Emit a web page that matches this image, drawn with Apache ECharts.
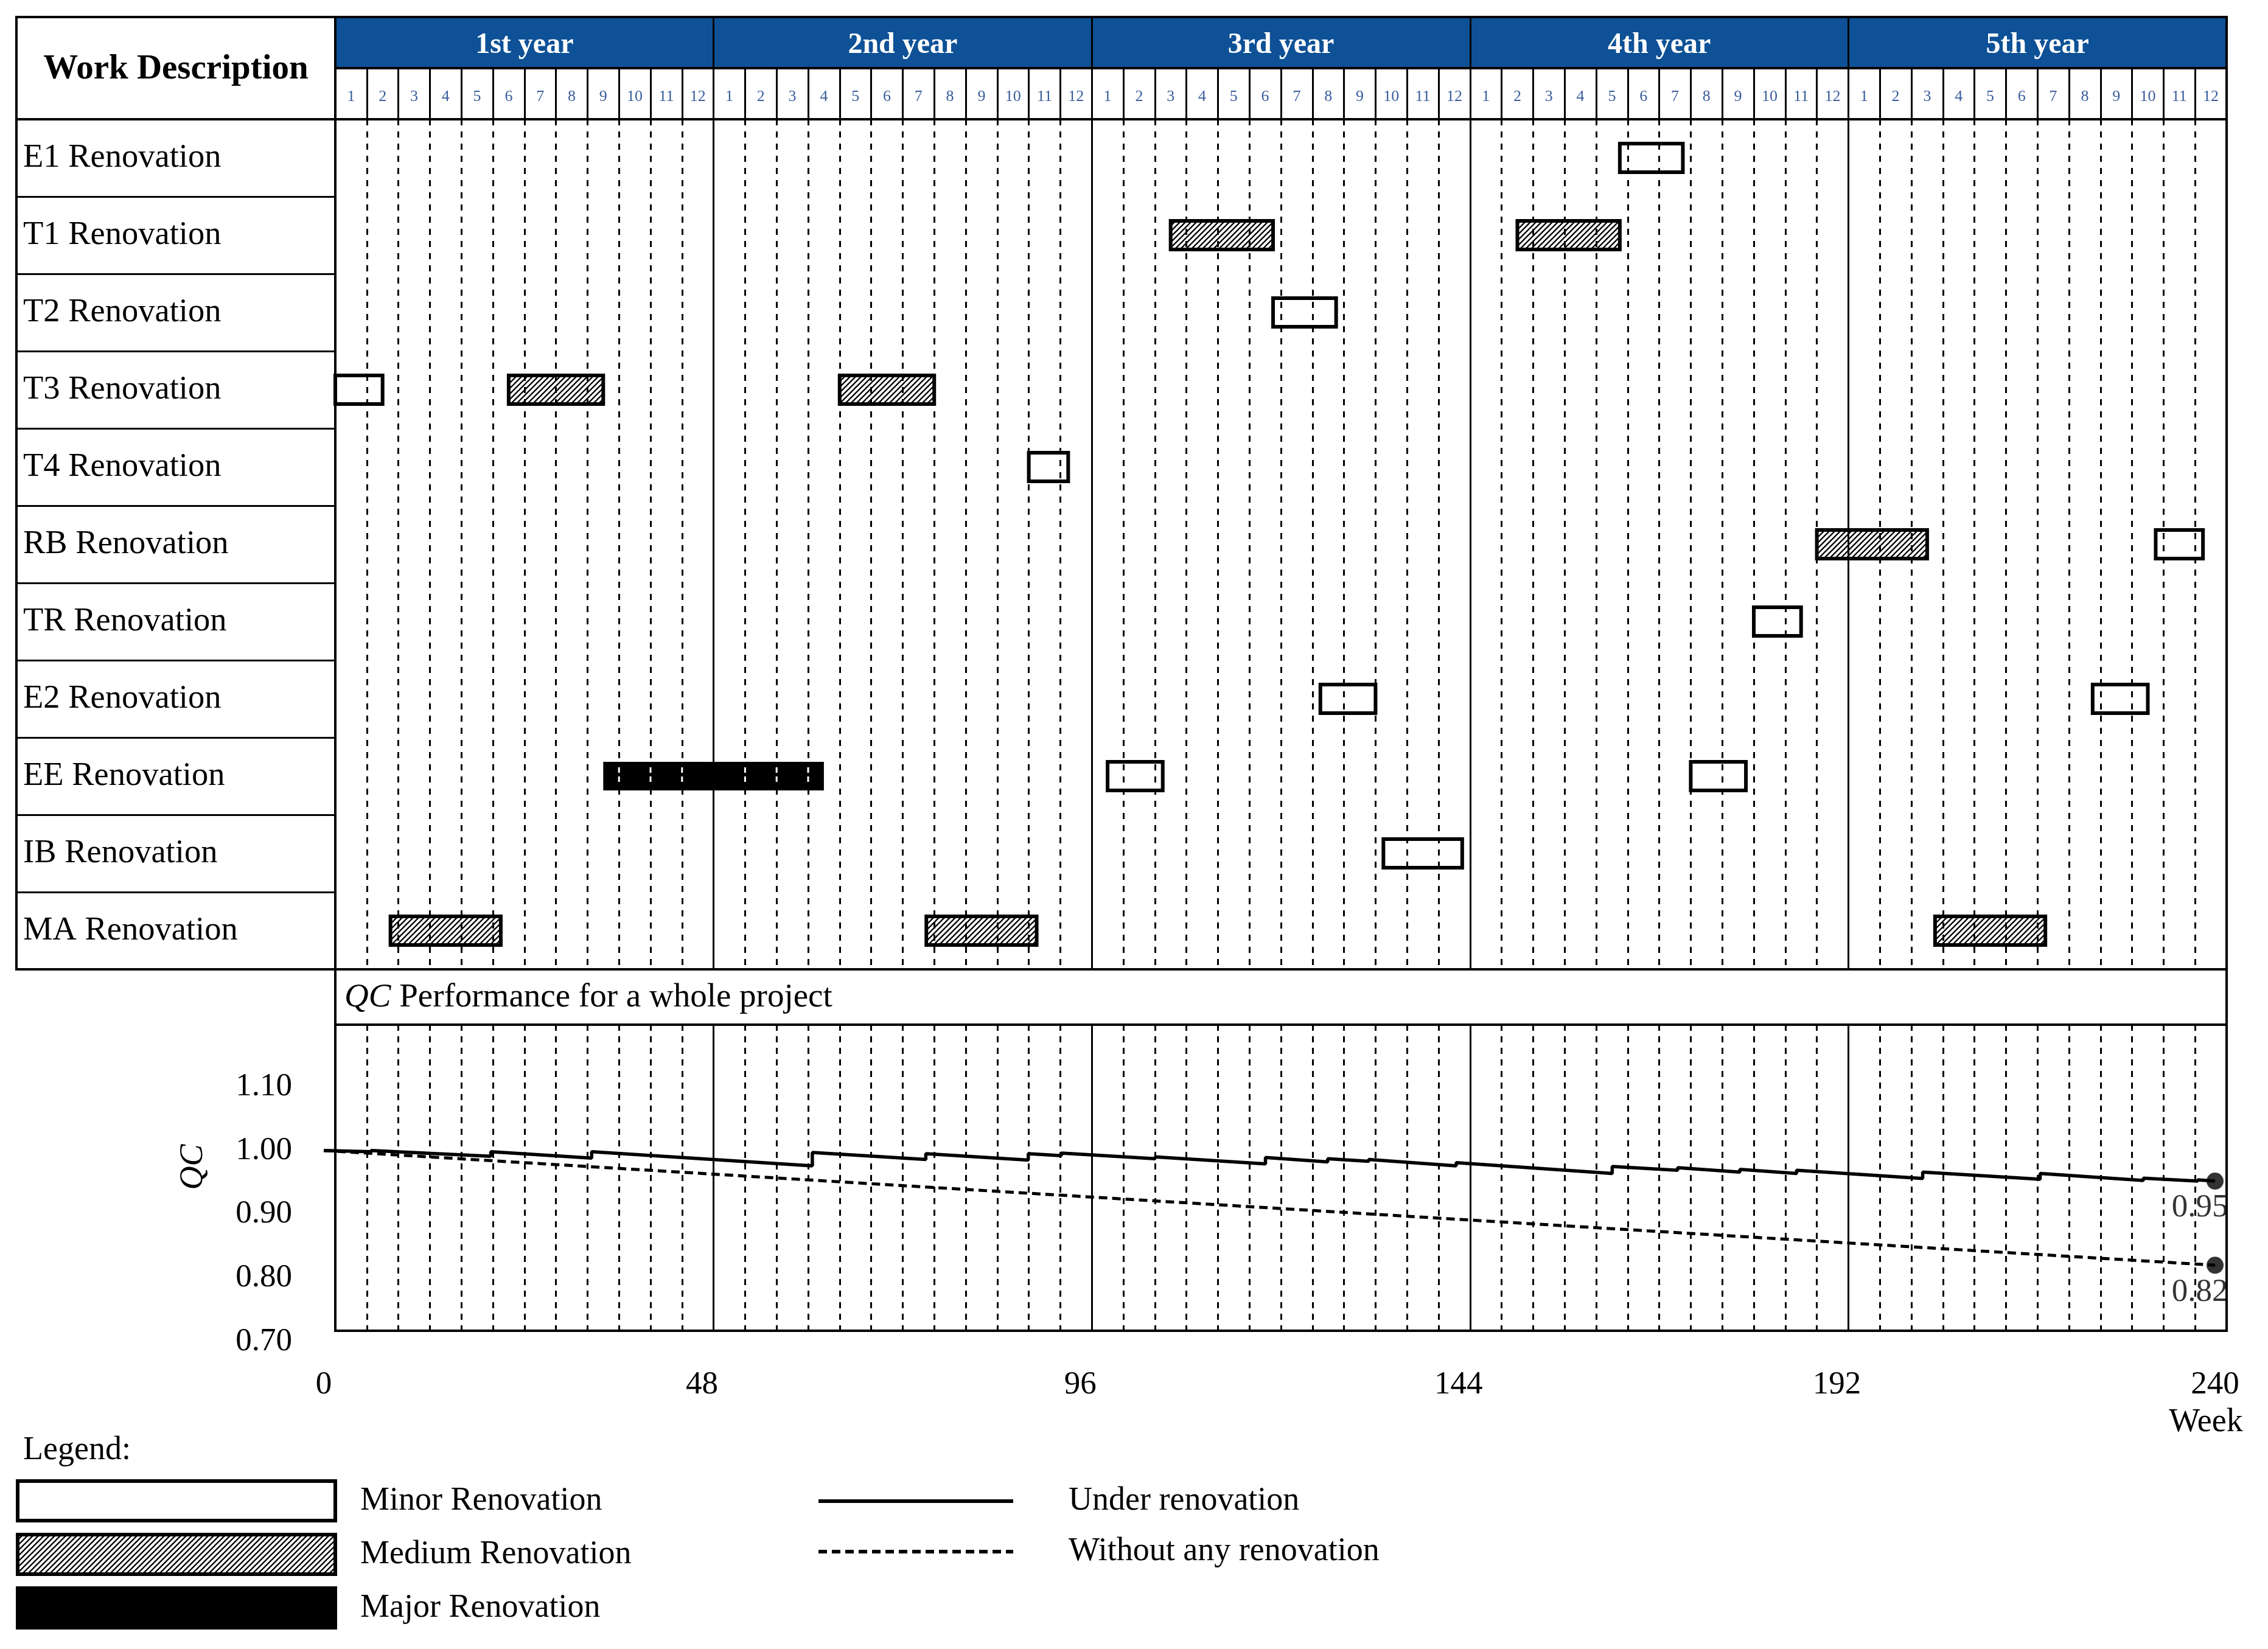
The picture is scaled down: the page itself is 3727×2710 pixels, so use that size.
<!DOCTYPE html>
<html><head><meta charset="utf-8">
<script src="https://cdn.jsdelivr.net/npm/echarts@6/dist/echarts.min.js"></script>
<style>html,body{margin:0;padding:0;background:#fff}#c{width:3727px;height:2710px}</style>
</head><body><div id="c"></div><script>
// ---------- data ----------
const taskNames = ['E1 Renovation','T1 Renovation','T2 Renovation','T3 Renovation','T4 Renovation','RB Renovation','TR Renovation','E2 Renovation','EE Renovation','IB Renovation','MA Renovation'];
const yearLabels = ['1st year','2nd year','3rd year','4th year','5th year'];
const monthLabels = ['1','2','3','4','5','6','7','8','9','10','11','12'];
// [task index, start week, end week]
const minorWorks = [[0,163,171],[2,119,127],[3,0,6],[4,88,93],[5,231,237],[6,180,186],[7,125,132],[7,223,230],[8,98,105],[8,172,179],[9,133,143]];
const mediumWorks = [[1,106,119],[1,150,163],[3,22,34],[3,64,76],[5,188,202],[10,7,21],[10,75,89],[10,203,217]];
const majorWorks = [[8,34,62]];
// QC performance [week, QC]
const qcUnder = [[0,1.000],[6,0.998],[6,1.000],[21.2,0.991],[21.2,0.998],[34,0.988],[34,0.998],[62,0.976],[62,0.997],
  [76.4,0.986],[76.4,0.995],[89.4,0.985],[89.4,0.995],[93.6,0.992],[93.6,0.996],[105.5,0.987],[105.5,0.990],
  [119.5,0.979],[119.5,0.989],[127.4,0.982],[127.4,0.987],[132.6,0.983],[132.6,0.986],[143.7,0.976],[143.7,0.981],
  [163.5,0.964],[163.5,0.975],[171.8,0.969],[171.8,0.973],[179.7,0.966],[179.7,0.9705],[186.9,0.964],[186.9,0.969],
  [202.9,0.956],[202.9,0.966],[217.8,0.955],[217.8,0.964],[230.9,0.953],[230.9,0.9565],[237.8,0.952],[237.8,0.954],[240,0.952]];
const qcWithout = [[0,1.00],[144,0.892],[240,0.82]];
const weekTicks = {min:0, max:240, step:48};
const qcTicks = {min:0.70, max:1.10, step:0.10};
const WEEKS_PER_MONTH = 4;

// ---------- helpers ----------
const SERIF = "'Liberation Serif','Times New Roman',serif";
const monthKeys = [];
yearLabels.forEach((y,i)=>monthLabels.forEach(m=>monthKeys.push(i+'|'+m)));

function makeHatch(){
  const s=9, c=document.createElement('canvas'); c.width=c.height=s;
  const g=c.getContext('2d'); g.fillStyle='#fff'; g.fillRect(0,0,s,s);
  g.strokeStyle='#000'; g.lineWidth=2.3; g.beginPath();
  g.moveTo(0,s); g.lineTo(s,0);
  g.moveTo(-s/2,s/2); g.lineTo(s/2,-s/2);
  g.moveTo(s/2,s*1.5); g.lineTo(s*1.5,s/2);
  g.stroke(); return c;
}
const hatch = {image: makeHatch(), repeat:'repeat'};

function barRender(kind){
  return function(params, api){
    const row=api.value(0), s=api.value(1), e=api.value(2);
    const p0=api.coord([s,row]), p1=api.coord([e,row]);
    const h=api.size([0,1])[1]*0.37;
    const x=p0[0], y=p0[1]-h/2, w=p1[0]-p0[0];
    if(kind==='major'){
      const children=[{type:'rect',shape:{x,y,width:w,height:h},style:{fill:'#000'}}];
      for(let wk=Math.ceil(s/WEEKS_PER_MONTH)*WEEKS_PER_MONTH; wk<e; wk+=WEEKS_PER_MONTH){
        if(wk<=s || wk%weekTicks.step===0) continue;
        const px=api.coord([wk,row])[0];
        children.push({type:'line',shape:{x1:px,y1:y+9,x2:px,y2:y+h-9},style:{stroke:'#fff',lineWidth:3,lineDash:[9,6]}});
      }
      return {type:'group',children};
    }
    return {type:'rect',shape:{x,y,width:w,height:h},style:{fill:kind==='minor'?'#fff':hatch,stroke:'#000',lineWidth:6}};
  };
}

const L=27, LC=551, R=3659, W=R-LC;
const hidden = {axisLine:{show:false},axisTick:{show:false},axisLabel:{show:false}};
function gridAxis(gi, step, dash, pos){
  return Object.assign({gridIndex:gi,type:'value',min:weekTicks.min,max:weekTicks.max,interval:step,position:pos,z:5,
    splitLine:{show:true,lineStyle:{color:'#000',width:3,type:dash||'solid'}}}, hidden);
}

const chart = echarts.init(document.getElementById('c'), null, {width:3727,height:2710,renderer:'canvas'});
chart.setOption({
  animation:false,
  backgroundColor:'#fff',
  grid:[
    {left:LC,top:28,width:W,height:84,show:true,backgroundColor:'#0e5196',borderColor:'#000',borderWidth:4},
    {left:LC,top:112,width:W,height:84,show:true,borderColor:'#000',borderWidth:4},
    {left:L,top:196,width:LC-L,height:1397,show:true,borderColor:'#000',borderWidth:4},
    {left:LC,top:196,width:W,height:1397,show:true,borderColor:'#000',borderWidth:4},
    {left:LC,top:1684,width:W,height:503,show:true,borderColor:'#000',borderWidth:4},
    {left:532,top:1786,width:W,height:419}
  ],
  xAxis:[
    {gridIndex:0,type:'category',data:yearLabels,axisLine:{show:false},axisTick:{show:false},
      axisLabel:{inside:true,interval:0,margin:37,verticalAlign:'middle',color:'#fff',fontWeight:'bold',fontSize:48,fontFamily:SERIF},
      splitLine:{show:true,interval:0,lineStyle:{color:'#000',width:3}}},
    {gridIndex:1,type:'category',data:monthKeys,axisLine:{show:false},axisTick:{show:false},
      axisLabel:{inside:true,interval:0,margin:37,verticalAlign:'middle',color:'#3a5d9c',fontSize:26,fontFamily:SERIF,formatter:v=>v.split('|')[1]},
      splitLine:{show:true,interval:0,lineStyle:{color:'#000',width:3}}},
    gridAxis(3,WEEKS_PER_MONTH,[10,10],'bottom'),
    gridAxis(3,weekTicks.step,null,'top'),
    gridAxis(4,WEEKS_PER_MONTH,[10,9],'bottom'),
    gridAxis(4,weekTicks.step,null,'top'),
    {gridIndex:5,type:'value',min:weekTicks.min,max:weekTicks.max,interval:weekTicks.step,
      axisLine:{show:false},axisTick:{show:false},splitLine:{show:false},
      axisLabel:{fontSize:53,margin:45,color:'#000',fontFamily:SERIF},
      name:'Week',nameLocation:'end',nameGap:-15,
      nameTextStyle:{fontSize:54,color:'#000',fontFamily:SERIF,align:'center',verticalAlign:'top',padding:[106,0,0,0]}},
    {gridIndex:2,type:'value',show:false}
  ],
  yAxis:[
    {gridIndex:0,type:'value',show:false},
    {gridIndex:1,type:'value',show:false},
    {gridIndex:3,type:'category',data:taskNames,inverse:true,show:false},
    {gridIndex:4,type:'value',show:false},
    {gridIndex:5,type:'value',min:qcTicks.min,max:qcTicks.max,interval:qcTicks.step,
      axisLine:{show:false},axisTick:{show:false},splitLine:{show:false},
      axisLabel:{fontSize:53,margin:52,color:'#000',fontFamily:SERIF,formatter:v=>v.toFixed(2)}},
    {gridIndex:2,type:'category',data:taskNames,inverse:true,axisLine:{show:false},axisTick:{show:false},
      axisLabel:{inside:true,interval:0,margin:11,align:'left',color:'#000',fontSize:54.5,fontFamily:SERIF},
      splitLine:{show:true,interval:0,lineStyle:{color:'#000',width:3}}}
  ],
  legend:[
    {data:['Minor Renovation','Medium Renovation','Major Renovation'],orient:'vertical',left:26,top:2431,padding:0,
      itemWidth:522,itemHeight:65,itemGap:17,icon:'rect',selectedMode:false,
      itemStyle:{borderColor:'#000',borderWidth:6},
      textStyle:{fontSize:54,color:'#000',fontFamily:SERIF,padding:[0,0,0,36]}},
    {data:['Under renovation','Without any renovation'],orient:'vertical',left:1342,top:2440,padding:0,
      itemWidth:320,itemHeight:65,itemGap:29,selectedMode:false,itemStyle:{opacity:0},
      lineStyle:{width:6},
      textStyle:{fontSize:54,color:'#000',fontFamily:SERIF,padding:[0,0,0,86]}}
  ],
  graphic:[
    {type:'rect',shape:{x:L,y:28,width:LC-L,height:168},style:{fill:'none',stroke:'#000',lineWidth:4}},
    {type:'text',x:289,y:114,style:{text:'Work Description',font:'bold 57px '+SERIF,fill:'#000',align:'center',verticalAlign:'middle'}},
    {type:'rect',shape:{x:LC,y:1593,width:W,height:91},style:{fill:'none',stroke:'#000',lineWidth:4}},
    {type:'text',x:566,y:1640,style:{text:'{i|QC} Performance for a whole project',font:'55px '+SERIF,fill:'#000',verticalAlign:'middle',
      rich:{i:{fontStyle:'italic',fontSize:55,fontFamily:SERIF,fill:'#000'}}}},
    {type:'text',x:318,y:1918,rotation:Math.PI/2,style:{text:'QC',font:'italic 54px '+SERIF,fill:'#000',align:'center',verticalAlign:'middle'}},
    {type:'text',x:38,y:2384,style:{text:'Legend:',font:'54px '+SERIF,fill:'#000',verticalAlign:'middle'}}
  ],
  series:[
    {type:'custom',name:'Minor Renovation',xAxisIndex:2,yAxisIndex:2,data:minorWorks,encode:{x:[1,2],y:0},
      renderItem:barRender('minor'),itemStyle:{color:'#fff',borderColor:'#000',borderWidth:6}},
    {type:'custom',name:'Medium Renovation',xAxisIndex:2,yAxisIndex:2,data:mediumWorks,encode:{x:[1,2],y:0},
      renderItem:barRender('medium'),itemStyle:{color:hatch,borderColor:'#000',borderWidth:6}},
    {type:'custom',name:'Major Renovation',xAxisIndex:2,yAxisIndex:2,data:majorWorks,encode:{x:[1,2],y:0},z:10,
      renderItem:barRender('major'),itemStyle:{color:'#000',borderColor:'#000',borderWidth:6}},
    {type:'line',name:'Under renovation',xAxisIndex:6,yAxisIndex:4,data:qcUnder,symbol:'none',z:4,
      lineStyle:{color:'#000',width:5.5},itemStyle:{color:'#000'}},
    {type:'line',name:'Without any renovation',xAxisIndex:6,yAxisIndex:4,data:qcWithout,symbol:'none',z:4,
      lineStyle:{color:'#000',width:5,type:[14,8]},itemStyle:{color:'#000'}},
    {type:'scatter',name:'end',xAxisIndex:6,yAxisIndex:4,z:6,symbolSize:28,itemStyle:{color:'#000'},
      data:[qcUnder[qcUnder.length-1],qcWithout[qcWithout.length-1]],
      label:{show:true,position:'bottom',distance:4,offset:[-25,0],fontSize:53,color:'#000',fontFamily:SERIF,formatter:p=>p.value[1].toFixed(2)}}
  ]
});
</script></body></html>
